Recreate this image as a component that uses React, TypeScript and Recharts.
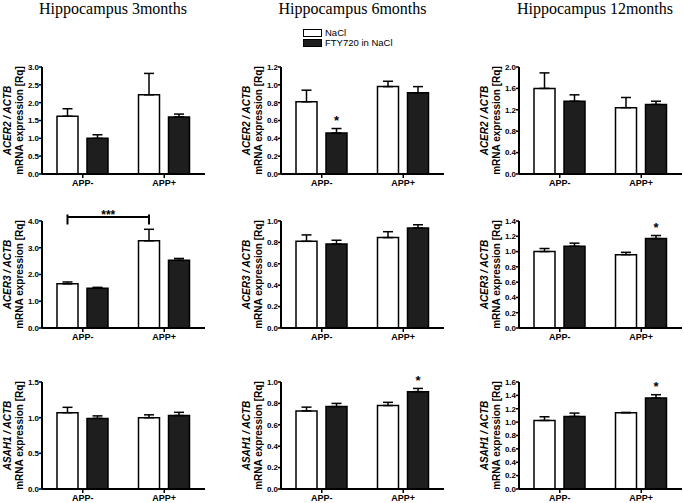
import React from "react";
import { BarChart, Bar, XAxis, YAxis, ErrorBar, LabelList, Legend } from "recharts";

// x-axis categories
const groups = ["APP-", "APP+"];
const series = ["NaCl", "FTY720 in NaCl"];
const titles = ["Hippocampus 3months", "Hippocampus 6months", "Hippocampus 12months"];
const genes = ["ACER2", "ACER3", "ASAH1"];

// one entry per panel, row by row (gene), then column (age); values are [APP-, APP+]
const naclMean = [
  [1.62, 2.22], [0.81, 0.98], [1.6, 1.24],
  [1.65, 3.26], [0.81, 0.845], [1.0, 0.96],
  [1.07, 1.0], [0.73, 0.78], [1.025, 1.14],
];
const naclSem = [
  [0.21, 0.6], [0.13, 0.06], [0.29, 0.19],
  [0.07, 0.43], [0.06, 0.055], [0.04, 0.03],
  [0.075, 0.04], [0.035, 0.03], [0.055, 0.005],
];
const ftyMean = [
  [1.0, 1.6], [0.46, 0.91], [1.36, 1.3],
  [1.49, 2.53], [0.785, 0.935], [1.07, 1.17],
  [0.99, 1.03], [0.77, 0.91], [1.085, 1.36],
];
const ftySem = [
  [0.1, 0.08], [0.05, 0.07], [0.12, 0.06],
  [0.03, 0.07], [0.035, 0.03], [0.04, 0.04],
  [0.035, 0.045], [0.03, 0.03], [0.05, 0.05],
];
// "*" over the FTY720 bar
const ftyStar = [
  [false, false], [true, false], [false, false],
  [false, false], [false, false], [false, true],
  [false, false], [false, true], [false, true],
];
const yTicks = [
  [0, 0.5, 1.0, 1.5, 2.0, 2.5, 3.0],
  [0, 0.2, 0.4, 0.6, 0.8, 1.0, 1.2],
  [0, 0.4, 0.8, 1.2, 1.6, 2.0],
  [0, 1.0, 2.0, 3.0, 4.0],
  [0, 0.2, 0.4, 0.6, 0.8, 1.0],
  [0, 0.2, 0.4, 0.6, 0.8, 1.0, 1.2, 1.4],
  [0, 0.5, 1.0, 1.5],
  [0, 0.2, 0.4, 0.6, 0.8, 1.0],
  [0, 0.2, 0.4, 0.6, 0.8, 1.0, 1.2, 1.4, 1.6],
];
// NaCl APP- vs NaCl APP+, ACER3 at 3 months
const bracketPanel = 3;
const bracketLevel = 4.15;
const bracketText = "***";

// layout
const SANS = '"Liberation Sans", Arial, sans-serif';
const SERIF = '"Liberation Serif", "Times New Roman", serif';
const AXIS_X = [42, 281, 519];
const ROW_TOP = [66.5, 220.5, 382];
const TITLE_X = [113, 352.5, 595];
const PLOT_W = 163;
const PLOT_H = 107;
const ML = 45;
const YW = 30;
const MT = 45;
const MR = 4;
const XH = 22;
const MB = 2;

const box = (props: any) => props.viewBox ?? props;

const AxisTitle = (gene: string) => (props: any) => {
  const vb = props.viewBox || {};
  const ax = vb.x + vb.width;
  const cy = vb.y + vb.height / 2;
  const common = { fontFamily: SANS, fontSize: 10, fontWeight: "bold" as const, fill: "#000", textAnchor: "middle" as const };
  return (
    <g>
      <text {...common} fontStyle="italic" x={ax - 34.5 + 3.6} y={cy} transform={`rotate(-90 ${ax - 34.5 + 3.6} ${cy})`}>
        {gene} / ACTB
      </text>
      <text {...common} x={ax - 22.5 + 3.6} y={cy} transform={`rotate(-90 ${ax - 22.5 + 3.6} ${cy})`}>
        mRNA expression [Rq]
      </text>
    </g>
  );
};

const Star = (p: number) => (props: any) => {
  const i = props.index;
  if (i == null || !ftyStar[p][i]) return null;
  const b = box(props);
  const ppu = b.height / ftyMean[p][i];
  const errTop = b.y - ftySem[p][i] * ppu;
  return (
    <text x={b.x + b.width / 2} y={errTop - 3.5} textAnchor="middle" fontFamily={SANS} fontSize={13} fontWeight="bold" fill="#000">
      *
    </text>
  );
};

const Bracket = (p: number) => (props: any) => {
  const i = props.index;
  if (i !== 1) return null;
  const b = box(props);
  const cx = b.x + b.width / 2;
  const ppu = b.height / naclMean[p][i];
  const yLine = b.y - (bracketLevel - naclMean[p][i]) * ppu;
  const x0 = cx - PLOT_W / groups.length;
  return (
    <g stroke="#000" strokeWidth={2}>
      <line x1={x0} x2={cx} y1={yLine} y2={yLine} />
      <line x1={x0} x2={x0} y1={yLine - 2.5} y2={yLine + 7.5} />
      <line x1={cx} x2={cx} y1={yLine - 2.5} y2={yLine + 7.5} />
      <text x={(x0 + cx) / 2} y={yLine + 2.5} textAnchor="middle" stroke="none" fontFamily={SANS} fontSize={12} fontWeight="bold" fill="#000">
        {bracketText}
      </text>
    </g>
  );
};

const LegendBox = (props: any) => {
  const items = [...(props.payload || [])].sort((a: any, b: any) => series.indexOf(a.value) - series.indexOf(b.value));
  return (
    <div style={{ fontFamily: SANS, fontSize: 9.5, color: "#000" }}>
      {items.map((e: any, i: number) => (
        <div key={i} style={{ display: "flex", alignItems: "center", height: 10 }}>
          <span style={{ display: "inline-block", width: 17, height: 6, background: e.color ?? e.payload?.fill, border: "1px solid #000", marginRight: 3 }} />
          <span style={{ lineHeight: "10px", whiteSpace: "nowrap" }}>{e.value}</span>
        </div>
      ))}
    </div>
  );
};

const Panel = ({ p }: { p: number }) => {
  const row = Math.floor(p / 3);
  const col = p % 3;
  const data = groups.map((g, i) => ({
    group: g,
    nacl: naclMean[p][i],
    fty: ftyMean[p][i],
    naclErr: [0, naclSem[p][i]],
    ftyErr: [0, ftySem[p][i]],
  }));
  const ticks = yTicks[p];
  const left = AXIS_X[col] - ML - YW;
  const top = ROW_TOP[row] - MT;
  return (
    <div style={{ position: "absolute", left, top }}>
      <BarChart
        width={ML + YW + PLOT_W + MR}
        height={MT + PLOT_H + XH + MB}
        data={data}
        margin={{ top: MT, right: MR, left: ML, bottom: MB }}
        barSize={21}
        barGap={9}
      >
        <XAxis
          dataKey="group"
          height={XH}
          interval={0}
          axisLine={{ stroke: "#000", strokeWidth: 2 }}
          tickLine={{ stroke: "#000", strokeWidth: 1.5 }}
          tickSize={4}
          tick={{ fill: "#000", fontSize: 9, fontWeight: "bold", fontFamily: SANS }}
        />
        <YAxis
          width={YW}
          domain={[0, ticks[ticks.length - 1]]}
          ticks={ticks}
          interval={0}
          tickFormatter={(v: number) => v.toFixed(1)}
          axisLine={{ stroke: "#000", strokeWidth: 2 }}
          tickLine={{ stroke: "#000", strokeWidth: 1.5 }}
          tickSize={3}
          tickMargin={0}
          tick={{ fill: "#000", fontSize: 8, fontWeight: "bold", fontFamily: SANS }}
          label={AxisTitle(genes[row])}
        />
        <Bar dataKey="nacl" name={series[0]} fill="#ffffff" stroke="#000" strokeWidth={1.5} isAnimationActive={false}>
          <ErrorBar dataKey="naclErr" width={5} stroke="#000" strokeWidth={1.5} />
          {p === bracketPanel && <LabelList content={Bracket(p)} />}
        </Bar>
        <Bar dataKey="fty" name={series[1]} fill="#1e1e1e" stroke="#000" strokeWidth={1.5} isAnimationActive={false}>
          <ErrorBar dataKey="ftyErr" width={5} stroke="#000" strokeWidth={1.5} />
          <LabelList content={Star(p)} />
        </Bar>
        {p === 1 && (
          <Legend
            layout="vertical"
            align="center"
            verticalAlign="middle"
            content={LegendBox}
            wrapperStyle={{ left: 97, top: 6, width: 120 }}
          />
        )}
      </BarChart>
    </div>
  );
};

export default function App() {
  return (
    <div style={{ position: "absolute", left: 0, top: 0, width: 684, height: 503, background: "#fff", overflow: "hidden" }}>
      <svg width={684} height={20} style={{ position: "absolute", left: 0, top: 0 }}>
        {titles.map((t, i) => (
          <text key={t} x={TITLE_X[i]} y={13.5} textAnchor="middle" fontFamily={SERIF} fontSize={16} fill="#000">
            {t}
          </text>
        ))}
      </svg>
      {naclMean.map((_, p) => (
        <Panel key={p} p={p} />
      ))}
    </div>
  );
}
